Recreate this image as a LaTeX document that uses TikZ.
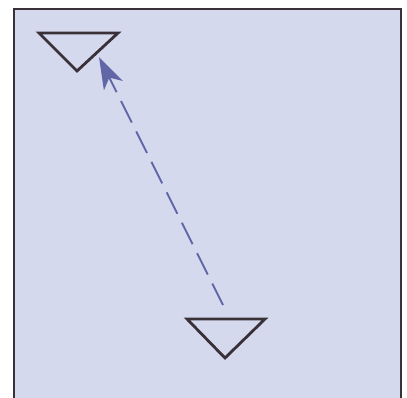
\documentclass[tikz,border=0pt]{standalone}
\usetikzlibrary{arrows.meta}
\definecolor{panel}{RGB}{212,217,238}
\definecolor{edge}{RGB}{58,48,56}
\definecolor{arrowc}{RGB}{96,102,166}
\tikzset{
  tri/.style={draw=edge, line width=2.8pt, line join=miter},
  frame/.style={draw=edge, line width=2.2pt},
  move/.style={draw=arrowc, line width=1.8pt, dash pattern=on 24pt off 10pt, -{Stealth[length=32pt,width=21pt,inset=9pt]}}
}
\begin{document}
\begin{tikzpicture}[x=1pt,y=-1pt]
\useasboundingbox (0,0) rectangle (407,398);
\fill[panel] (14,9) rectangle (401,398);
\draw[frame] (14,398) -- (14,9) -- (401,9) -- (401,398);
\draw[tri] (39,33) -- (118,33) -- (77,71) -- cycle;
\draw[tri] (187,319) -- (265,319) -- (225,358) -- cycle;
\coordinate (from) at (223,305);
\coordinate (to) at (99,57);
\draw[move] (from) -- (to);
\end{tikzpicture}
\end{document}
